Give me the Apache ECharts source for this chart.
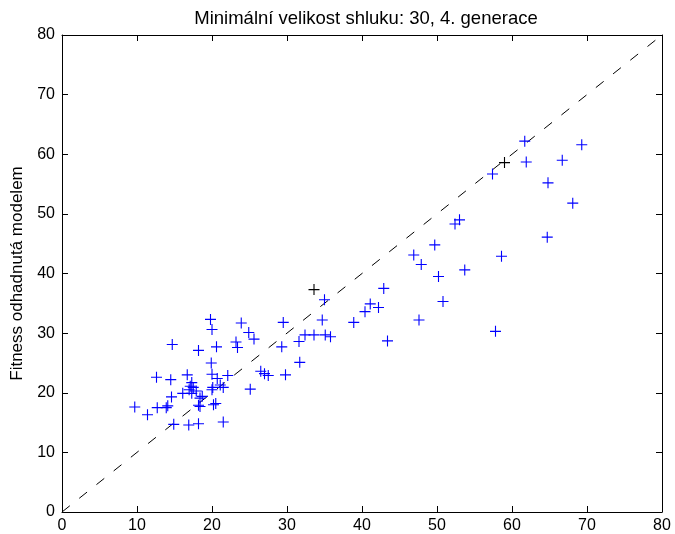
<!DOCTYPE html>
<html>
<head>
<meta charset="utf-8">
<script src="https://cdn.jsdelivr.net/npm/echarts@6/dist/echarts.min.js"></script>
<style>html,body{margin:0;padding:0;background:#fff}#c{width:675px;height:534px}</style>
</head>
<body>
<div id="c"></div>
<script>
var titleText = 'Minimální velikost shluku: 30, 4. generace';
var yLabel = 'Fitness odhadnutá modelem';
var tickValues = [0, 10, 20, 30, 40, 50, 60, 70, 80];

var blueX = [9.7, 11.4, 12.6, 12.7, 13.9, 14.1, 14.5, 14.6, 14.7, 14.9,
  16.1, 16.9, 16.95, 17.1, 17.3, 17.3, 17.5, 17.9, 18.2, 18.2,
  18.2, 18.4, 18.4, 18.7, 19.8, 20.0, 19.9, 20.0, 20.0, 20.1,
  20.2, 20.5, 20.6, 20.7, 21.1, 21.5, 21.5, 23.2, 23.4, 23.9,
  24.9, 25.1, 25.6, 26.5, 27.0, 27.5, 29.3, 29.5, 29.8, 31.6,
  31.7, 32.4, 33.6, 34.7, 35.0, 35.1, 35.8, 38.9, 40.4, 41.1,
  42.2, 42.9, 43.4, 46.9, 47.6, 47.9, 49.7, 50.2, 50.8, 52.4,
  53.0, 53.7, 57.4, 57.8, 58.6, 61.7, 61.9, 64.7, 64.8, 66.7,
  68.1, 69.3, 22.1, 16.7];
var blueY = [17.6, 16.3, 22.6, 17.5, 17.5, 17.8, 22.2, 19.3, 28.1, 14.7,
  19.9, 14.6, 20.5, 21.1, 21.7, 19.9, 20.9, 20.3, 27.1, 17.9,
  14.8, 19.1, 17.7, 19.4, 32.3, 30.6, 25.0, 23.1, 20.5, 20.9,
  18.0, 18.2, 27.7, 22.4, 21.3, 20.9, 15.1, 28.5, 27.6, 31.7,
  30.1, 20.6, 29.0, 23.6, 23.2, 22.9, 27.7, 31.8, 23.0, 28.6,
  25.1, 29.7, 29.7, 32.2, 35.6, 29.7, 29.4, 31.8, 33.6, 34.9,
  34.3, 37.5, 28.7, 43.1, 32.2, 41.5, 44.8, 39.5, 35.3, 48.3,
  49.0, 40.6, 56.7, 30.3, 42.9, 62.2, 58.7, 46.1, 55.2, 59.0,
  51.8, 61.6, 22.9, 23.0];
var blackX = [33.6, 59.0];
var blackY = [37.3, 58.6];
var diagX = [0, 80];
var diagY = [0, 80];

function pairs(xs, ys) { return xs.map(function (x, i) { return [x, ys[i]]; }); }

var plus = 'path://M0,4.5L10,4.5L10,5.5L0,5.5Z M4.5,0L5.5,0L5.5,10L4.5,10Z';
var font = 'Liberation Sans, Arial, Helvetica, sans-serif';

function xa(pos, show) {
  return {
    type: 'value', position: pos, min: 0, max: 80, interval: 10,
    axisLine: { show: true, onZero: false, lineStyle: { color: '#000', width: 1 } },
    axisTick: { show: true, inside: true, length: 6, lineStyle: { color: '#000' } },
    axisLabel: { show: show, color: '#000', fontSize: 16, fontFamily: font, margin: 6 },
    splitLine: { show: false }
  };
}
var x0 = xa('bottom', true);
var x1 = xa('top', false);
var y0 = xa('left', true);
y0.axisLabel.margin = 7;
y0.name = yLabel;
y0.nameLocation = 'middle';
y0.nameGap = 36;
y0.nameRotate = 90;
y0.nameTextStyle = { color: '#000', fontSize: 17, fontFamily: font };
var y1 = xa('right', false);

var chart = echarts.init(document.getElementById('c'), null, { renderer: 'canvas' });
chart.setOption({
  animation: false,
  backgroundColor: '#fff',
  title: {
    text: titleText, left: 361, top: 4, textAlign: 'center',
    textStyle: { color: '#000', fontSize: 18.5, fontWeight: 'normal', fontFamily: font }
  },
  grid: { left: 62, right: 13, top: 35, bottom: 22, containLabel: false, outerBoundsMode: 'none' },
  xAxis: [x0, x1],
  yAxis: [y0, y1],
  series: [
    {
      type: 'line', data: pairs(diagX, diagY), symbol: 'none', z: 1,
      lineStyle: { color: '#000', width: 1, type: [10, 12] }
    },
    {
      type: 'scatter', data: pairs(blueX, blueY), symbol: plus, symbolSize: 11, z: 3,
      itemStyle: { color: '#0000ff', opacity: 1 }
    },
    {
      type: 'scatter', data: pairs(blackX, blackY), symbol: plus, symbolSize: 11, z: 4,
      itemStyle: { color: '#000', opacity: 1 }
    }
  ]
});
</script>
</body>
</html>
